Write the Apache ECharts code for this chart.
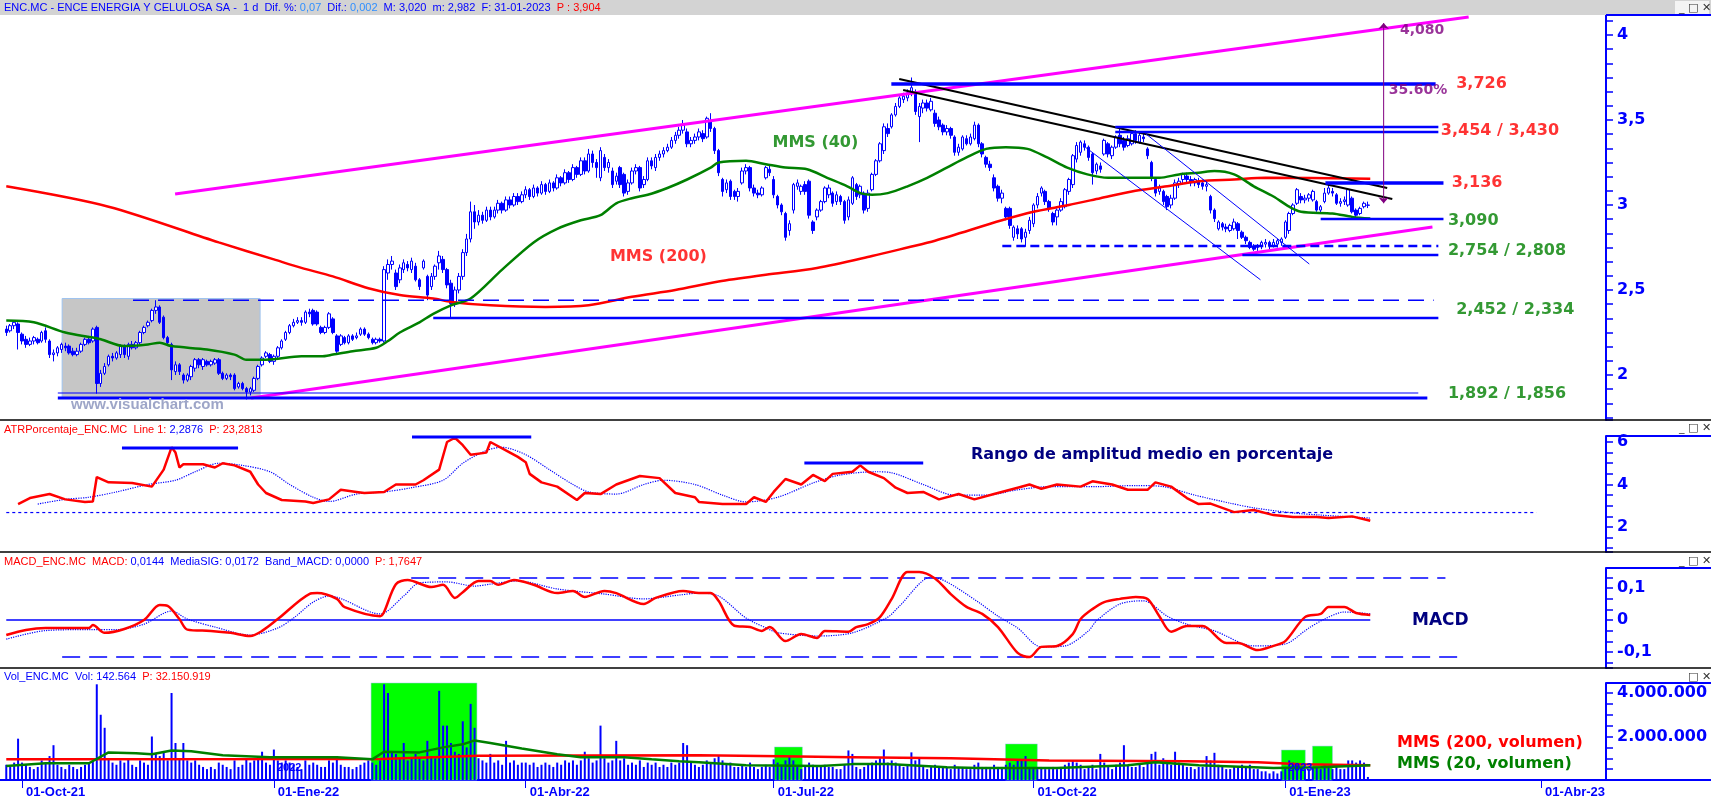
<!DOCTYPE html>
<html>
<head>
<meta charset="utf-8">
<title>ENC.MC - ENCE ENERGIA Y CELULOSA SA</title>
<script src="https://cdn.jsdelivr.net/npm/echarts/dist/echarts.min.js"></script>
<style>
html, body { margin: 0; padding: 0; background: #fff; }
#grafico { width: 1711px; height: 799px; }
</style>
</head>
<body>
<div id="grafico"></div>
<script>
// velas diarias [apertura, cierre, minimo, maximo, volumen (millones)]
var sep21 = [[2.27,2.25,2.23,2.29,0.7],[2.26,2.29,2.25,2.30,0.6],[2.29,2.31,2.27,2.32,0.8],[2.30,2.25,2.15,2.31,1.9]];
var oct21 = [[2.24,2.20,2.18,2.25,0.8],[2.21,2.18,2.16,2.23,0.7],[2.18,2.20,2.17,2.22,0.6],[2.20,2.22,2.18,2.23,0.5],[2.21,2.19,2.18,2.22,0.6],
  [2.20,2.25,2.19,2.26,0.9],[2.26,2.21,2.19,2.28,0.8],[2.20,2.12,2.10,2.21,1.1],[2.12,2.13,2.08,2.15,1.6],[2.13,2.16,2.11,2.17,0.7],
  [2.15,2.18,2.13,2.19,0.6],[2.17,2.16,2.14,2.19,0.5],[2.17,2.13,2.12,2.18,0.7],[2.14,2.12,2.11,2.16,0.6],[2.12,2.14,2.11,2.16,0.5],
  [2.14,2.18,2.13,2.19,0.6],[2.18,2.21,2.17,2.22,0.7],[2.21,2.19,2.18,2.23,0.8],[2.20,2.27,2.19,2.28,0.9],[2.28,1.95,1.89,2.29,4.4],
  [1.95,2.01,1.93,2.03,3.0]];
var nov21 = [[2.01,2.05,2.00,2.07,2.4],[2.06,2.11,2.05,2.12,1.0],[2.11,2.10,2.08,2.13,0.8],[2.10,2.13,2.09,2.14,0.7],[2.12,2.17,2.10,2.18,0.9],
  [2.17,2.12,2.10,2.18,0.8],[2.11,2.18,2.09,2.19,1.0],[2.18,2.16,2.15,2.20,0.7],[2.16,2.19,2.15,2.20,0.6],[2.19,2.25,2.18,2.26,0.9],
  [2.25,2.28,2.24,2.29,0.8],[2.29,2.31,2.28,2.32,0.7],[2.32,2.38,2.31,2.39,2.0],[2.38,2.40,2.36,2.44,1.2],[2.40,2.31,2.30,2.41,1.1],
  [2.34,2.22,2.21,2.35,1.3],[2.22,2.19,2.17,2.23,0.9],[2.18,2.03,1.97,2.19,4.0],[2.02,2.06,2.00,2.08,1.7],[2.06,2.02,2.00,2.07,1.0],
  [2.00,1.97,1.95,2.01,1.7],[1.97,2.00,1.96,2.01,0.9]];
var dic21 = [[1.99,2.05,1.97,2.06,0.8],[2.04,2.09,2.02,2.10,0.9],[2.09,2.06,2.04,2.10,0.7],[2.05,2.09,2.03,2.10,0.6],[2.08,2.06,2.05,2.09,0.5],
  [2.06,2.08,2.05,2.09,0.6],[2.07,2.09,2.06,2.10,0.5],[2.09,2.01,2.00,2.10,0.8],[2.01,1.98,1.97,2.02,0.7],[1.98,2.00,1.97,2.01,0.6],
  [2.00,1.99,1.97,2.01,0.5],[2.00,1.92,1.91,2.01,0.9],[1.93,1.95,1.92,1.96,0.6],[1.95,1.92,1.91,1.96,0.7],[1.92,1.90,1.856,1.93,1.0],
  [1.90,1.92,1.88,1.93,0.8],[1.91,1.98,1.90,1.99,0.9],[1.98,2.05,1.97,2.06,1.1],[2.06,2.10,2.05,2.11,1.3],[2.11,2.13,2.10,2.14,0.8],
  [2.12,2.08,2.07,2.13,0.7]];
var ene22 = [[2.08,2.11,2.06,2.12,1.4],[2.11,2.16,2.10,2.17,0.9],[2.16,2.20,2.15,2.21,0.8],[2.21,2.25,2.20,2.26,0.9],[2.25,2.29,2.24,2.30,0.8],
  [2.29,2.31,2.28,2.33,0.7],[2.31,2.32,2.30,2.34,0.6],[2.32,2.31,2.29,2.34,0.5],[2.31,2.37,2.30,2.38,0.9],[2.37,2.36,2.34,2.39,0.7],
  [2.38,2.30,2.29,2.39,0.8],[2.37,2.30,2.29,2.38,0.7],[2.28,2.25,2.24,2.29,0.6],[2.25,2.28,2.24,2.29,0.6],[2.28,2.36,2.27,2.37,0.9],
  [2.33,2.25,2.24,2.34,0.8],[2.23,2.14,2.13,2.24,1.0],[2.18,2.23,2.17,2.24,0.7],[2.22,2.19,2.18,2.23,0.6],[2.19,2.23,2.18,2.24,0.6],
  [2.23,2.21,2.20,2.24,0.5]];
var feb22 = [[2.22,2.23,2.21,2.25,0.6],[2.24,2.27,2.23,2.28,0.7],[2.27,2.24,2.23,2.28,0.8],[2.24,2.22,2.21,2.25,0.9],[2.21,2.19,2.18,2.22,0.8],
  [2.19,2.21,2.18,2.22,0.7],[2.21,2.20,2.19,2.22,0.9],[2.20,2.62,2.19,2.64,4.4],[2.60,2.65,2.56,2.68,4.0],[2.65,2.67,2.62,2.70,1.3],
  [2.60,2.52,2.50,2.62,1.2],[2.56,2.63,2.54,2.65,1.0],[2.62,2.66,2.60,2.68,1.7],[2.65,2.63,2.61,2.67,0.9],[2.62,2.67,2.60,2.69,1.0],
  [2.64,2.56,2.55,2.66,1.2],[2.56,2.52,2.50,2.57,1.0],[2.63,2.67,2.62,2.68,0.9],[2.58,2.47,2.44,2.59,1.8],[2.52,2.58,2.50,2.60,1.1]];
var mar22 = [[2.58,2.64,2.56,2.65,1.0],[2.66,2.70,2.62,2.73,4.1],[2.68,2.62,2.60,2.70,2.5],[2.62,2.53,2.51,2.63,2.5],[2.54,2.42,2.334,2.56,1.7],
  [2.43,2.50,2.40,2.52,1.3],[2.50,2.58,2.48,2.60,1.2],[2.58,2.72,2.56,2.74,2.7],[2.72,2.80,2.70,2.83,1.5],[2.80,2.96,2.78,3.02,3.5],
  [2.96,2.90,2.86,3.00,2.4],[2.90,2.94,2.88,2.97,1.0],[2.94,2.91,2.89,2.96,0.9],[2.91,2.97,2.90,2.99,0.8],[2.97,2.93,2.91,2.99,1.2],
  [2.93,2.97,2.92,2.99,0.8],[2.97,3.01,2.95,3.03,0.9],[3.01,2.97,2.95,3.02,0.7],[2.97,3.03,2.96,3.05,1.8],[3.03,3.00,2.98,3.05,0.8],
  [3.00,3.05,2.99,3.07,0.9],[3.05,3.02,3.00,3.07,0.7],[3.02,3.06,3.01,3.08,0.8]];
var abr22 = [[3.06,3.09,3.04,3.11,0.8],[3.09,3.05,3.03,3.10,0.7],[3.05,3.10,3.04,3.12,0.8],[3.10,3.07,3.05,3.11,0.6],[3.07,3.12,3.06,3.14,0.7],
  [3.12,3.08,3.06,3.13,0.8],[3.08,3.13,3.07,3.15,0.7],[3.13,3.10,3.08,3.14,0.6],[3.10,3.16,3.09,3.18,0.8],[3.16,3.13,3.11,3.17,0.7],
  [3.13,3.19,3.12,3.21,0.9],[3.19,3.15,3.13,3.20,0.8],[3.15,3.22,3.14,3.24,0.9],[3.22,3.18,3.16,3.23,0.7],[3.18,3.26,3.17,3.28,0.9],
  [3.26,3.20,3.18,3.28,1.3],[3.20,3.30,3.19,3.33,1.0],[3.30,3.25,3.22,3.32,0.8],[3.25,3.22,3.16,3.27,0.9]];
var may22 = [[3.16,3.32,3.14,3.34,2.5],[3.28,3.22,3.20,3.30,1.0],[3.22,3.25,3.19,3.27,0.8],[3.20,3.12,3.10,3.22,0.9],[3.14,3.17,3.12,3.19,1.8],
  [3.22,3.12,3.10,3.23,0.9],[3.18,3.07,3.05,3.19,1.0],[3.08,3.13,3.06,3.15,0.7],[3.13,3.20,3.12,3.22,0.8],[3.20,3.22,3.18,3.24,0.7],
  [3.22,3.10,3.08,3.23,0.9],[3.12,3.15,3.10,3.17,0.6],[3.15,3.26,3.14,3.28,0.8],[3.26,3.23,3.21,3.28,0.7],[3.22,3.28,3.20,3.30,0.8],
  [3.28,3.30,3.26,3.32,0.6],[3.30,3.32,3.28,3.34,0.7],[3.32,3.34,3.31,3.36,0.6],[3.34,3.38,3.33,3.40,0.8],[3.38,3.41,3.36,3.43,0.7],
  [3.41,3.44,3.39,3.46,0.8],[3.44,3.47,3.42,3.50,1.7]];
var jun22 = [[3.43,3.36,3.34,3.45,1.6],[3.36,3.38,3.34,3.40,0.8],[3.38,3.40,3.36,3.42,0.7],[3.40,3.43,3.38,3.45,0.6],[3.42,3.39,3.37,3.44,0.7],
  [3.40,3.51,3.39,3.52,0.9],[3.49,3.45,3.43,3.54,0.8],[3.45,3.32,3.30,3.46,1.0],[3.32,3.19,3.17,3.33,1.1],[3.15,3.08,3.05,3.16,0.9],
  [3.09,3.13,3.07,3.15,0.7],[3.14,3.05,3.03,3.15,0.8],[3.08,3.05,3.03,3.09,0.6],[3.05,3.08,3.02,3.10,0.6],[3.13,3.20,3.12,3.22,0.7],
  [3.20,3.22,3.18,3.24,0.6],[3.22,3.10,3.08,3.23,0.8],[3.10,3.07,3.05,3.12,0.6],[3.07,3.06,3.04,3.09,0.5],[3.06,3.10,3.05,3.11,0.6],
  [3.16,3.22,3.15,3.23,0.7],[3.21,3.19,3.17,3.23,0.6]];
var jul22 = [[3.15,3.06,3.04,3.17,0.95],[3.05,3.00,2.98,3.06,0.8],[3.00,2.96,2.94,3.01,0.7],[2.95,2.81,2.79,2.96,0.9],[2.85,2.89,2.82,2.91,1.1],
  [2.97,3.12,2.95,3.13,0.9],[3.11,3.13,3.09,3.15,0.6],[3.08,3.11,3.06,3.12,0.5],[3.12,3.08,3.06,3.14,0.6],[3.14,2.94,2.92,3.15,0.8],
  [2.90,2.85,2.83,2.91,0.7],[2.93,2.97,2.91,2.98,0.6],[2.97,3.02,2.96,3.03,0.6],[3.02,3.10,3.01,3.11,0.7],[3.06,3.10,3.04,3.12,0.6],
  [3.07,3.01,2.99,3.08,0.6],[3.02,3.06,3.00,3.08,0.5],[3.05,3.02,3.00,3.06,0.5],[3.02,2.91,2.89,3.03,0.7],[2.93,3.03,2.91,3.05,1.36],
  [3.01,3.16,3.00,3.17,1.2]];
var ago22 = [[3.12,3.05,3.03,3.13,0.6],[3.06,3.11,3.04,3.12,0.5],[3.07,2.97,2.95,3.08,0.6],[2.98,3.07,2.96,3.09,0.7],[3.09,3.18,3.08,3.19,0.8],
  [3.18,3.26,3.17,3.27,0.9],[3.26,3.36,3.25,3.37,1.0],[3.32,3.46,3.30,3.48,1.4],[3.45,3.42,3.40,3.48,0.8],[3.46,3.53,3.45,3.54,0.9],
  [3.53,3.58,3.52,3.60,0.8],[3.58,3.63,3.57,3.64,0.7],[3.62,3.64,3.60,3.66,0.6],[3.63,3.66,3.61,3.68,0.7],[3.66,3.69,3.64,3.75,1.27],
  [3.66,3.55,3.53,3.68,0.9],[3.52,3.58,3.37,3.60,1.0],[3.57,3.60,3.54,3.62,0.6],[3.60,3.57,3.55,3.62,0.5],[3.56,3.61,3.55,3.63,0.6],
  [3.54,3.48,3.46,3.56,0.7],[3.50,3.46,3.44,3.52,0.6],[3.47,3.43,3.41,3.48,0.6]];
var sep22 = [[3.43,3.45,3.41,3.47,0.6],[3.45,3.41,3.39,3.46,0.5],[3.40,3.31,3.29,3.41,0.7],[3.31,3.34,3.29,3.36,0.6],[3.33,3.40,3.32,3.41,0.6],
  [3.39,3.36,3.35,3.41,0.5],[3.36,3.40,3.35,3.42,0.5],[3.39,3.47,3.38,3.49,0.7],[3.47,3.36,3.34,3.48,0.8],[3.36,3.30,3.28,3.37,0.6],
  [3.28,3.24,3.22,3.29,0.6],[3.24,3.22,3.20,3.26,0.5],[3.16,3.10,3.08,3.18,0.7],[3.11,3.04,3.02,3.12,0.6],[3.04,3.07,3.01,3.09,0.6],
  [2.98,2.93,2.91,2.99,0.7],[2.98,2.88,2.86,2.99,0.8],[2.81,2.87,2.79,2.88,0.7],[2.86,2.83,2.80,2.88,0.9],[2.86,2.80,2.78,2.87,0.9],
  [2.81,2.84,2.754,2.86,1.1],[2.85,2.91,2.83,2.93,0.6]];
var oct22 = [[2.89,3.00,2.87,3.01,0.6],[3.00,3.05,2.98,3.07,0.5],[3.07,3.10,3.05,3.11,0.6],[3.08,3.02,3.00,3.09,0.5],[3.02,2.98,2.96,3.03,0.5],
  [2.95,2.90,2.88,2.96,0.6],[2.93,2.97,2.88,2.98,0.5],[2.97,3.02,2.96,3.04,0.6],[2.99,3.09,2.98,3.10,0.7],[3.08,3.15,3.06,3.16,0.8],
  [3.12,3.29,3.10,3.30,0.9],[3.27,3.35,3.25,3.37,0.8],[3.31,3.37,3.29,3.38,0.7],[3.36,3.34,3.32,3.38,0.5],[3.34,3.28,3.26,3.35,0.6],
  [3.30,3.19,3.12,3.31,0.7],[3.20,3.24,3.18,3.25,0.5],[3.23,3.21,3.19,3.25,1.2],[3.30,3.38,3.29,3.39,0.8],[3.36,3.30,3.28,3.37,0.6],
  [3.29,3.34,3.27,3.35,0.5]];
var nov22 = [[3.34,3.40,3.33,3.41,0.7],[3.41,3.36,3.34,3.454,0.8],[3.38,3.34,3.32,3.40,1.6],[3.35,3.39,3.34,3.41,0.7],[3.36,3.42,3.35,3.43,0.6],
  [3.42,3.38,3.36,3.44,0.6],[3.37,3.41,3.36,3.43,0.7],[3.40,3.39,3.37,3.43,0.6],[3.33,3.29,3.27,3.34,0.8],[3.25,3.16,3.14,3.26,1.2],
  [3.15,3.07,3.05,3.16,1.3],[3.08,3.10,3.06,3.12,0.7],[3.08,3.02,3.00,3.09,1.0],[3.05,2.99,2.97,3.06,0.8],[3.00,3.04,2.98,3.06,0.7],
  [3.04,3.13,3.03,3.15,1.3],[3.12,3.14,3.10,3.16,0.8],[3.15,3.18,3.13,3.19,0.7],[3.17,3.15,3.13,3.19,0.6],[3.15,3.13,3.11,3.17,0.6],
  [3.13,3.15,3.11,3.16,0.5],[3.14,3.12,3.10,3.16,0.6]];
var dic22 = [[3.13,3.11,3.09,3.15,0.6],[3.11,3.12,3.08,3.14,1.1],[3.05,2.97,2.95,3.06,0.9],[2.97,2.92,2.90,2.98,1.25],[2.86,2.90,2.85,2.91,0.7],
  [2.89,2.87,2.85,2.90,0.6],[2.87,2.86,2.84,2.89,0.5],[2.85,2.88,2.84,2.89,0.5],[2.86,2.90,2.85,2.92,0.6],[2.89,2.85,2.80,2.90,0.6],
  [2.84,2.81,2.80,2.85,0.7],[2.81,2.79,2.77,2.82,0.6],[2.78,2.75,2.74,2.79,0.7],[2.76,2.74,2.73,2.77,0.5],[2.75,2.76,2.73,2.77,0.5],
  [2.76,2.78,2.74,2.79,0.4],[2.77,2.78,2.75,2.80,0.4],[2.78,2.76,2.74,2.79,0.3],[2.76,2.78,2.75,2.80,0.4],[2.77,2.79,2.75,2.80,0.3],
  [2.78,2.80,2.76,2.81,0.4]];
var ene23 = [[2.81,2.90,2.80,2.91,0.6],[2.85,2.95,2.83,2.96,0.9],[2.95,3.00,2.94,3.01,0.8],[3.01,3.09,3.00,3.10,0.7],[3.05,3.03,3.01,3.07,0.6],
  [3.03,3.04,3.01,3.06,0.5],[3.04,3.06,3.02,3.07,0.5],[3.03,3.08,3.02,3.09,0.6],[3.02,2.97,2.96,3.03,0.6],[2.97,2.99,2.95,3.00,0.5],
  [3.02,3.07,3.01,3.10,0.7],[3.07,3.10,3.06,3.12,0.6],[3.08,3.07,3.05,3.10,0.5],[3.06,3.01,3.00,3.07,0.6],[3.01,3.02,2.99,3.04,0.5],
  [3.02,3.03,3.00,3.05,0.5],[3.00,3.09,2.99,3.10,0.9],[3.04,2.96,2.95,3.05,0.9],[2.97,2.94,2.93,2.98,0.8],[2.95,2.98,2.94,2.99,0.9],
  [2.99,3.01,2.98,3.02,0.8],[2.998,3.000,2.982,3.020,0.14]];

// medias moviles del precio [sesion, valor]
var mms40 = [[0,2.32],[7,2.31],[15,2.25],[22,2.22],[24,2.21],[30,2.17],[36,2.18],[39,2.19],[42,2.17],[51,2.15],[58,2.12],[61,2.09],
  [66,2.09],[75,2.11],[80,2.11],[83,2.12],[88,2.14],[94,2.16],[97,2.2],[100,2.25],[105,2.31],[108.5,2.36],[113,2.41],[118,2.45],
  [126,2.62],[134,2.78],[140,2.86],[146,2.91],[151,2.94],[155,3.01],[159,3.04],[163,3.06],[168,3.1],[173,3.15],[179,3.22],[181,3.25],
  [188,3.26],[193,3.24],[198,3.22],[203.5,3.21],[208.6,3.16],[213.7,3.11],[217,3.07],[220,3.06],[224,3.07],[229,3.11],[234,3.16],
  [239,3.22],[244,3.28],[249,3.33],[254,3.34],[259.5,3.33],[264.5,3.28],[269.6,3.22],[274.7,3.18],[280,3.16],[286,3.16],[293,3.16],
  [298,3.18],[303,3.19],[307,3.2],[312,3.18],[317,3.11],[322,3.05],[326,2.99],[329,2.96],[337,2.95],[342,2.93],[346.6,2.92]];
var mms200 = [[0,3.11],[26,2.99],[54,2.78],[68,2.68],[75,2.63],[83,2.58],[92,2.51],[100,2.47],[108.5,2.45],[113,2.43],[123,2.41],
  [137,2.40],[148,2.41],[159,2.46],[170,2.5],[181,2.55],[193,2.59],[206,2.63],[220,2.7],[229,2.75],[236,2.79],[253,2.91],[261,2.96],
  [270,3.0],[278,3.04],[286,3.08],[295,3.11],[303,3.14],[312,3.15],[320,3.16],[346.6,3.155]];

// figuras dibujadas sobre el precio
var cajaGris = [[14.2, 2.45], [64.5, 1.865]];
var canalSuperior = [[42.9, 3.065], [371.6, 4.106]];
var canalInferior = [[62.2, 1.865], [362.4, 2.871]];
var bajistaA = [[226.9, 3.741], [350.9, 3.10]];
var bajistaB = [[227.9, 3.676], [352.2, 3.035]];
var canalFino1 = [[274.2, 3.34], [318.7, 2.56]];
var canalFino2 = [[289.5, 3.42], [331.1, 2.653]];
var objetivo = [[350, 3.01], [350, 4.07]];
// niveles horizontales [desde, hasta, precio]
var nivel3726 = [224.9, 363.2, 3.712];
var nivel3454 = [281.8, 363.9, 3.459];
var nivel3430 = [281.8, 363.9, 3.430];
var nivel3136 = [335.2, 365.2, 3.13];
var nivel3090 = [334.0, 365.2, 2.918];
var nivel2754 = [253.1, 363.9, 2.759];
var nivel2808 = [314.1, 363.9, 2.706];
var nivel2452 = [32.2, 362.7, 2.44];
var nivel2334 = [108.5, 363.9, 2.335];
var nivel1892 = [13.1, 358.8, 1.894];
var nivel1856 = [13.1, 361.1, 1.865];
// rotulos [sesion, precio, texto]
var rotulosRojos = [[368.3, 3.712, '3,726'], [364.4, 3.435, '3,454 / 3,430'], [367.2, 3.129, '3,136']];
var rotulosVerdes = [[366.2, 2.906, '3,090'], [366.2, 2.729, '2,754 / 2,808'], [368.3, 2.382, '2,452 / 2,334'], [366.2, 1.888, '1,892 / 1,856']];
var rotulosMedias = [[205.6, 3.365, 'MMS (40)', '#008000'], [165.7, 2.694, 'MMS (200)', '#ff0000']];
var rotulosObjetivo = [[354, 4.03, '4,080'], [351.2, 3.676, '35.60%']];

// ATR en porcentaje
var atr = [[3,3.08],[6,3.36],[11,3.55],[15,3.3],[20,3.18],[22,3.2],[23,4.35],[26,4.1],[32,4.07],[37,3.9],[40,4.7],[42,5.75],[43,5.5],
  [44,4.8],[45,4.95],[50,4.95],[53,4.8],[55,5.0],[58,4.9],[62,4.6],[64,4.0],[66,3.6],[70,3.27],[76,3.2],[78,3.13],[82,3.3],[85,3.75],
  [89,3.65],[91,3.6],[96,3.65],[99,4.0],[104,4.0],[106,4.2],[110,4.7],[112,6.0],[114,6.2],[116,5.85],[118,5.4],[122,5.5],[123,6.0],
  [128,5.5],[130,5.3],[132,5.05],[133,4.5],[136,4.1],[140,3.9],[145,3.27],[147,3.6],[151,3.55],[155,4.0],[161,4.4],[166,4.3],[170,3.6],
  [175,3.4],[176,3.18],[182,3.08],[188,3.08],[190,3.4],[193,3.18],[195,3.65],[198,4.26],[202,4.0],[205,4.45],[208,4.16],[210,4.5],
  [215,4.6],[217,4.9],[219,4.6],[223,4.3],[226,3.85],[229,3.6],[233,3.65],[237,3.3],[242,3.55],[246,3.3],[251,3.55],[257,3.85],
  [260,4.0],[263,3.8],[267,4.0],[273,3.9],[276,4.15],[281,4.0],[285,3.75],[290,3.75],[292,4.1],[296,3.9],[300,3.36],[303,3.08],
  [306,3.1],[312,2.7],[317,2.8],[322,2.56],[327,2.47],[333,2.47],[336,2.42],[342,2.5],[346.6,2.29]];
var atrSenal = [[8,3.08],[15,3.3],[21,3.4],[28,3.65],[36,4.0],[43,4.2],[48,4.6],[54,5.0],[60,4.9],[67,4.6],[72,4.0],[78,3.4],[82,3.2],
  [89,3.55],[96,3.65],[103,3.85],[111,4.2],[116,5.0],[122,5.6],[126,5.75],[132,5.4],[138,4.7],[144,4.0],[148,3.65],[155,3.55],
  [162,4.0],[167,4.2],[175,4.0],[182,3.5],[188,3.18],[196,3.4],[205,4.07],[212,4.45],[221,4.6],[225,4.55],[233,4.0],[241,3.5],
  [249,3.5],[257,3.75],[265,3.9],[277,3.9],[287,3.95],[294,3.9],[302,3.5],[311,3.12],[317,2.9],[327,2.66],[334,2.56],[346.6,2.42]];
var atrTechos = [[29.4, 58.9, 5.72], [103.1, 133.4, 6.24], [202.8, 233, 5.01]];
var atrNivel = [0, 388.8, 2.68];

// MACD
var macd = [[0,-0.047],[5,-0.031],[10,-0.025],[21,-0.025],[22,-0.016],[25,-0.04],[30,-0.028],[35,0.0],[39,0.047],[41,0.044],[44,0.003],
  [46,-0.03],[52,-0.034],[57,-0.04],[62,-0.05],[65,-0.034],[69,0.003],[77,0.081],[79,0.084],[84,0.066],[86,0.04],[95,0.012],[96,0.025],
  [99,0.112],[102,0.125],[108,0.103],[111,0.11],[114,0.069],[116,0.087],[120,0.122],[123,0.122],[125,0.11],[129,0.125],[134,0.11],
  [140,0.084],[144,0.091],[147,0.072],[152,0.091],[155,0.084],[162,0.05],[165,0.069],[172,0.091],[176,0.084],[179,0.084],[181,0.06],
  [185,-0.018],[189,-0.022],[192,-0.034],[194,-0.022],[198,-0.066],[202,-0.044],[206,-0.056],[208,-0.034],[214,-0.037],[216,-0.022],
  [219,-0.013],[222,0.009],[225,0.066],[229,0.15],[232,0.15],[236,0.13],[240,0.081],[244,0.041],[248,0.019],[252,-0.022],[257,-0.103],
  [260,-0.116],[263,-0.084],[267,-0.081],[271,-0.044],[273,0.003],[276,0.034],[279,0.056],[283,0.066],[287,0.072],[290,0.066],
  [293,0.012],[296,-0.037],[300,-0.019],[304,-0.019],[310,-0.072],[313,-0.072],[318,-0.094],[322,-0.081],[325,-0.066],[330,0.009],
  [334,0.019],[336,0.041],[340,0.041],[343,0.022],[346.6,0.016]];
var macdSenal = [[0,-0.06],[10,-0.033],[21,-0.03],[28,-0.03],[35,-0.013],[42,0.028],[46,0.003],[53,-0.022],[62,-0.047],[69,-0.025],
  [73,0.006],[78,0.056],[82,0.075],[95,0.019],[101,0.075],[105,0.116],[112,0.119],[119,0.106],[123,0.112],[130,0.122],[140,0.097],
  [152,0.081],[162,0.066],[171,0.078],[176,0.084],[181,0.075],[188,0.006],[194,-0.03],[196,-0.04],[206,-0.05],[215,-0.04],[224,0.009],
  [227,0.044],[235,0.134],[239,0.119],[247,0.056],[252,0.012],[257,-0.025],[263,-0.084],[269,-0.081],[275,-0.034],[277,-0.003],
  [283,0.05],[289,0.06],[295,0.012],[300,-0.013],[307,-0.034],[317,-0.081],[325,-0.075],[330,-0.034],[331,-0.025],[335,0.003],
  [340,0.025],[346.6,0.019]];
var macdBandaSup = [102.9, 365.7, 0.131];
var macdBandaInf = [14.2, 368.8, -0.116];
var macdCero = [0, 346.6, 0];

// medias del volumen (millones)
var volMms200 = [[0,0.95],[95,0.97],[120,1.12],[176,1.14],[197,1.09],[215,1.05],[240,1.0],[265,0.9],[300,0.86],[318,0.82],[329,0.72],[346.6,0.68]];
var volMms20 = [[0,0.64],[10,0.77],[21,0.77],[26,1.27],[33,1.23],[37,1.18],[42,1.36],[47,1.32],[55,1.14],[67,1.05],[84,1.05],[93,0.95],
  [96,1.3],[105,1.27],[111,1.5],[116,1.64],[119,1.82],[123,1.7],[131,1.45],[140,1.18],[146,1.05],[157,1.05],[164,0.95],[171,0.86],
  [176,0.82],[188,0.68],[207,0.64],[215,0.73],[224,0.73],[239,0.59],[247,0.55],[267,0.55],[285,0.68],[292,0.82],[303,0.68],[317,0.59],
  [322,0.55],[334,0.59],[346.6,0.68]];
// zonas verdes [desde, hasta, altura]
var zonasVolumen = [[92.7, 119.6, 4.46], [195.2, 202.3, 1.52], [253.9, 262, 1.66], [324, 330.1, 1.38], [331.9, 337, 1.56]];

var festivos = ['2021-12-24','2021-12-31','2022-04-15','2022-04-18','2022-12-26','2023-04-07','2023-04-10'];
var meses = ['Ene','Feb','Mar','Abr','May','Jun','Jul','Ago','Sep','Oct','Nov','Dic'];
var numSesiones = 407;

// sesiones (dias habiles) desde el 27-09-2021
var fechas = [];
var d = new Date(Date.UTC(2021, 8, 27));
while (fechas.length < numSesiones) {
  var s = d.toISOString().slice(0, 10);
  var wd = d.getUTCDay();
  if (wd > 0 && wd < 6 && festivos.indexOf(s) < 0) fechas.push(s);
  d.setUTCDate(d.getUTCDate() + 1);
}
function inicioTrimestre(i) {
  if (i === 0) return false;
  var m = +fechas[i].slice(5, 7) - 1;
  var mp = +fechas[i - 1].slice(5, 7) - 1;
  return m !== mp && m % 3 === 0;
}

var filas = [].concat(sep21, oct21, nov21, dic21, ene22, feb22, mar22, abr22, may22, jun22, jul22, ago22, sep22, oct22, nov22, dic22, ene23);
var velas = filas.map(function (r) { return r.slice(0, 4); });
var volumen = filas.map(function (r) { return r[4]; });

function miles(n) { return String(Math.round(n)).replace(/\B(?=(\d{3})+(?!\d))/g, '.'); }
function coma(v) { return String(+v.toFixed(3)).replace('.', ','); }
function tramo(t) { return [[t[0], t[2]], [t[1], t[2]]]; }

var AZUL = '#0000ff';
var fuente = 'DejaVu Sans';

var grids = [
  { left: 4.3, right: 105, top: 15, height: 405 },
  { left: 4.3, right: 105, top: 436, height: 116 },
  { left: 4.3, right: 105, top: 568, height: 100 },
  { left: 4.3, right: 105, top: 683, height: 97 }
];
grids.forEach(function (g) { g.outerBoundsMode = 'none'; g.containLabel = false; });

var xAxes = [];
for (var g = 0; g < 4; g++) {
  xAxes.push({ type: 'category', gridIndex: g, data: fechas, boundaryGap: true, show: g === 3,
    axisLine: { show: true, onZero: false, lineStyle: { color: AZUL, width: 2 } },
    axisTick: { show: true, alignWithLabel: true, length: 8, interval: function (i) { return inicioTrimestre(i); }, lineStyle: { color: AZUL, width: 1 } },
    axisLabel: { show: true, interval: function (i) { return inicioTrimestre(i); }, align: 'left', margin: 6, padding: [0, 0, 0, 4],
      color: AZUL, fontWeight: 'bold', fontSize: 13, fontFamily: 'Liberation Sans',
      formatter: function (v) { return '01-' + meses[+v.slice(5, 7) - 1] + '-' + v.slice(2, 4); } },
    splitLine: { show: false } });
}
for (var g2 = 0; g2 < 4; g2++) {
  xAxes.push({ type: 'value', gridIndex: g2, min: -0.5, max: numSesiones - 0.5, show: false, splitLine: { show: false },
    axisLine: { onZero: false } });
}

function ejeY(g, min, max, split, minor, fmt) {
  return { type: 'value', gridIndex: g, position: 'right', min: min, max: max, splitNumber: split,
    axisLine: { show: true, onZero: false, lineStyle: { color: AZUL, width: 2 } },
    axisTick: { show: true, inside: false, length: 7, lineStyle: { color: AZUL, width: 1.5 } },
    minorTick: { show: true, splitNumber: minor, length: 7, lineStyle: { color: AZUL, width: 1.5 } },
    splitLine: { show: false }, minorSplitLine: { show: false },
    axisLabel: { color: AZUL, fontWeight: 'bold', fontSize: 16, fontFamily: fuente, margin: 11,
      showMinLabel: false, showMaxLabel: false, formatter: fmt } };
}

var yAxes = [
  ejeY(0, 1.7353, 4.1176, 5, 6, function (v) { return coma(v); }),
  ejeY(1, 0.8235, 6.282, 3, 4, function (v) { return coma(v); }),
  ejeY(2, -0.15, 0.1625, 3, 3, function (v) { return Math.abs(v) < 1e-9 ? '0' : coma(v); }),
  ejeY(3, 0, 4.46, 2, 4, function (v) { return miles(v * 1e6); })
];

function linea(g, datos, color, ancho, tipo, extra) {
  var s = { type: 'line', xAxisIndex: 4 + g, yAxisIndex: g, data: datos, symbol: 'none', showSymbol: false,
    silent: true, animation: false, z: 4, lineStyle: { color: color, width: ancho, type: tipo || 'solid' }, itemStyle: { color: color } };
  if (extra) for (var k in extra) s[k] = extra[k];
  return s;
}
function rotulos(g, lista, color, pos, tam) {
  return { type: 'scatter', xAxisIndex: 4 + g, yAxisIndex: g, silent: true, animation: false, z: 6,
    symbolSize: 1, itemStyle: { color: 'rgba(0,0,0,0)' },
    data: lista.map(function (n) { return { value: [n[0], n[1]], label: { formatter: n[2], color: n[3] || color } }; }),
    label: { show: true, position: pos, distance: 0, color: color, fontWeight: 'bold', fontSize: tam || 16, fontFamily: fuente } };
}

var series = [
  // caja gris
  linea(0, [cajaGris[0]], 'rgba(0,0,0,0)', 0, 'solid', { z: 1,
    markArea: { silent: true, itemStyle: { color: '#c6c6c6', borderColor: '#9ec3ef', borderWidth: 1 },
      data: [[{ coord: cajaGris[0] }, { coord: cajaGris[1] }]] } }),
  { type: 'candlestick', xAxisIndex: 0, yAxisIndex: 0, data: velas, barWidth: 3, silent: true, animation: false, z: 3,
    itemStyle: { color: '#ffffff', color0: AZUL, borderColor: AZUL, borderColor0: AZUL, borderColorDoji: AZUL, borderWidth: 1 } },
  linea(0, mms200, '#ff0000', 2.5, 'solid', { smooth: 0.3 }),
  linea(0, mms40, '#008000', 2.5, 'solid', { smooth: 0.3 }),
  linea(0, canalSuperior, '#ff00ff', 3),
  linea(0, canalInferior, '#ff00ff', 3),
  linea(0, bajistaA, '#000000', 2),
  linea(0, bajistaB, '#000000', 2),
  linea(0, canalFino1, AZUL, 1),
  linea(0, canalFino2, AZUL, 1),
  linea(0, tramo(nivel3726), AZUL, 3.5),
  linea(0, tramo(nivel3454), AZUL, 2.5),
  linea(0, tramo(nivel3430), AZUL, 2.5),
  linea(0, tramo(nivel3136), AZUL, 3.5),
  linea(0, tramo(nivel3090), AZUL, 2.5),
  linea(0, tramo(nivel2754), AZUL, 2.5, [9, 5]),
  linea(0, tramo(nivel2808), AZUL, 2.5),
  linea(0, tramo(nivel2452), AZUL, 1.5, [16, 9]),
  linea(0, tramo(nivel2334), AZUL, 2.5),
  linea(0, tramo(nivel1892), AZUL, 1.2),
  linea(0, tramo(nivel1856), AZUL, 3),
  linea(0, [{ value: objetivo[0], symbol: 'arrow', symbolRotate: 180, symbolSize: [8, 6] },
            { value: objetivo[1], symbol: 'arrow', symbolSize: [8, 6] }], '#800080', 1, 'solid', { showSymbol: true, symbol: 'arrow', z: 5 }),
  rotulos(0, rotulosRojos, '#ff0000', 'right'),
  rotulos(0, rotulosVerdes, '#008000', 'right'),
  rotulos(0, rotulosMedias, '#008000', 'inside'),
  rotulos(0, rotulosObjetivo, '#800080', 'right', 14),

  // ATR
  linea(1, tramo(atrNivel), AZUL, 1.2, [3, 3]),
  linea(1, atrSenal, AZUL, 1.2, 'dotted', { smooth: 0.3 }),
  linea(1, atr, '#ff0000', 2.5),
  linea(1, tramo(atrTechos[0]), AZUL, 3),
  linea(1, tramo(atrTechos[1]), AZUL, 3),
  linea(1, tramo(atrTechos[2]), AZUL, 3),

  // MACD
  linea(2, tramo(macdCero), AZUL, 1.5),
  linea(2, tramo(macdBandaSup), AZUL, 1.5, [18, 9]),
  linea(2, tramo(macdBandaInf), AZUL, 1.5, [18, 9]),
  linea(2, macdSenal, AZUL, 1.2, 'dotted', { smooth: 0.3 }),
  linea(2, macd, '#ff0000', 2.5, 'solid', { smooth: 0.3 }),

  // volumen
  linea(3, [[zonasVolumen[0][0], 0]], 'rgba(0,0,0,0)', 0, 'solid', { z: 1,
    markArea: { silent: true, itemStyle: { color: '#00ff00', borderColor: '#9ec3ef', borderWidth: 0.5 },
      data: zonasVolumen.map(function (zv) { return [{ coord: [zv[0], zv[2]] }, { coord: [zv[1], 0] }]; }) } }),
  { type: 'bar', xAxisIndex: 3, yAxisIndex: 3, data: volumen, barWidth: 2, silent: true, animation: false, z: 2,
    itemStyle: { color: AZUL } },
  linea(3, volMms200, '#ff0000', 2.5),
  linea(3, volMms20, '#008000', 2.5)
];

function texto(x, y, rich, partes, extra) {
  var t = { type: 'text', x: x, y: y, z: 100, silent: true,
    style: { text: partes, rich: rich, verticalAlign: 'middle', textAlign: 'left' } };
  if (extra) for (var k in extra) t.style[k] = extra[k];
  return t;
}
function linG(x1, y1, x2, y2, color, w) {
  return { type: 'line', z: 100, silent: true, shape: { x1: x1, y1: y1, x2: x2, y2: y2 }, style: { stroke: color, lineWidth: w } };
}
var cab = {
  a: { fill: AZUL, fontSize: 11, fontFamily: 'Liberation Sans' },
  c: { fill: '#2f8fff', fontSize: 11, fontFamily: 'Liberation Sans' },
  r: { fill: '#ff0000', fontSize: 11, fontFamily: 'Liberation Sans' }
};
function botones(y) {
  return texto(1679, y, { b: { fill: '#303030', fontSize: 11, fontFamily: fuente } }, '{b|_ \u25a1 \u2715}');
}

var graficos = [
  { type: 'rect', z: 99, silent: true, shape: { x: 0, y: 0, width: 1711, height: 15 }, style: { fill: '#d3d3d3' } },
  texto(4, 8, cab, '{a|ENC.MC - ENCE ENERGIA Y CELULOSA SA -  1 d  Dif. %: }{c|0,07}{a|  Dif.: }{c|0,002}{a|  M: 3,020  m: 2,982  F: 31-01-2023  }{r|P : 3,904}'),
  { type: 'rect', z: 99, silent: true, shape: { x: 1675, y: 1, width: 34, height: 13 }, style: { fill: '#f4f4f4' } },
  botones(8), botones(428), botones(561), botones(677),
  linG(0, 420, 1711, 420, '#000000', 1.5),
  linG(0, 552, 1711, 552, '#000000', 1.5),
  linG(0, 668, 1711, 668, '#000000', 1.5),
  linG(1606, 15, 1711, 15, AZUL, 2),
  linG(1606, 436, 1711, 436, AZUL, 2),
  linG(1606, 568, 1711, 568, AZUL, 2),
  linG(1606, 683, 1711, 683, AZUL, 2),
  linG(0, 780, 4.3, 780, AZUL, 2),
  linG(1606, 780, 1711, 780, AZUL, 2),
  texto(4, 430, cab, '{r|ATRPorcentaje_ENC.MC  Line 1: }{a|2,2876}{r|  P: 23,2813}'),
  texto(4, 562, cab, '{r|MACD_ENC.MC  MACD: }{a|0,0144  MediaSIG: 0,0172  Band_MACD: 0,0000}{r|  P: 1,7647}'),
  texto(4, 677, cab, '{a|Vol_ENC.MC  Vol: 142.564}{r|  P: 32.150.919}'),
  texto(971, 455, { t: { fill: '#000080', fontSize: 16, fontWeight: 'bold', fontFamily: fuente } }, '{t|Rango de amplitud medio en porcentaje}'),
  texto(1412, 621, { t: { fill: '#000080', fontSize: 17, fontWeight: 'bold', fontFamily: fuente } }, '{t|MACD}'),
  texto(1397, 743, { t: { fill: '#ff0000', fontSize: 16, fontWeight: 'bold', fontFamily: fuente } }, '{t|MMS (200, volumen)}'),
  texto(1397, 764, { t: { fill: '#008000', fontSize: 16, fontWeight: 'bold', fontFamily: fuente } }, '{t|MMS (20, volumen)}'),
  texto(71, 405, { t: { fill: '#9ea6c8', fontSize: 15, fontWeight: 'bold', fontFamily: 'Liberation Sans' } }, '{t|www.visualchart.com}'),
  texto(277, 768, { t: { fill: AZUL, fontSize: 11, fontWeight: 'bold', fontFamily: 'Liberation Sans' } }, '{t|2022}'),
  texto(1288, 768, { t: { fill: AZUL, fontSize: 11, fontWeight: 'bold', fontFamily: 'Liberation Sans' } }, '{t|2023}')
];

var grafico = echarts.init(document.getElementById('grafico'));
grafico.setOption({
  backgroundColor: '#ffffff',
  animation: false,
  grid: grids,
  xAxis: xAxes,
  yAxis: yAxes,
  series: series,
  graphic: graficos
});
</script>
</body>
</html>
